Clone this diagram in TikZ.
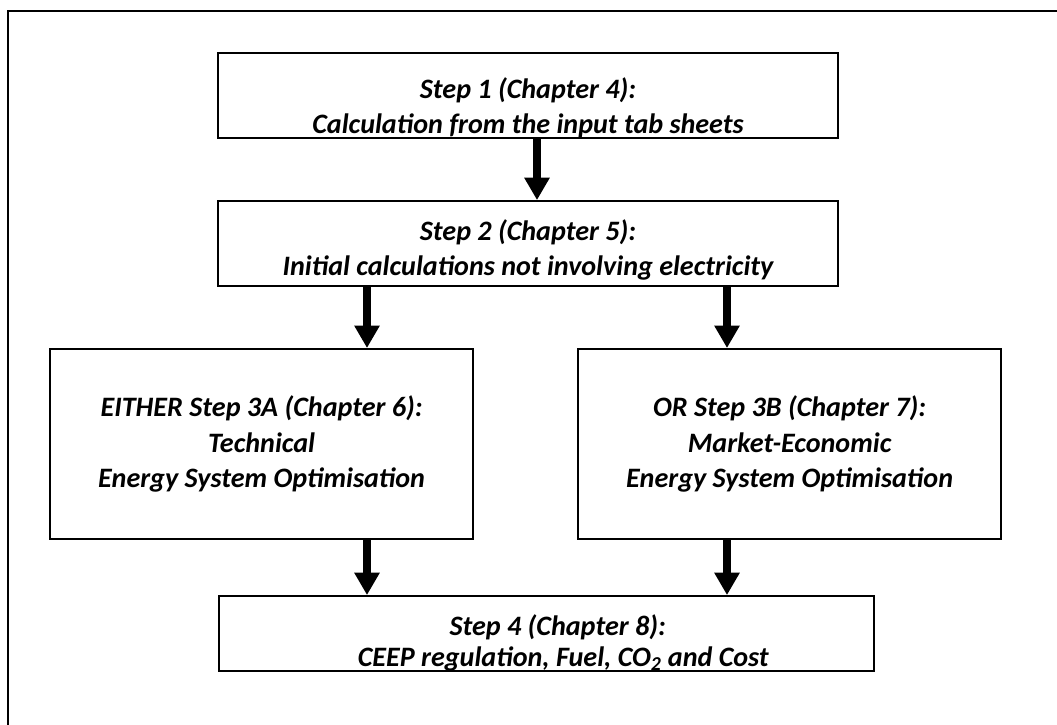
\documentclass[tikz,border=0pt]{standalone}
\usepackage{fontspec}
\setmainfont{Carlito}
\usepackage{tikz}
\usetikzlibrary{arrows.meta,positioning}

\begin{document}
\begin{tikzpicture}[->,>={Triangle[width=0.6cm,length=0.56cm]},node distance=3.7cm,
  stepbox/.style={draw, -, line width=1.4pt, align=center, inner sep=0pt,
    font=\fontsize{20}{25}\selectfont\bfseries\itshape},
  bigarrow/.style={line width=5pt}]
  \useasboundingbox (0,0) rectangle (26.425,-18.1);
  % outer frame, only its top and left edge are on the page
  \draw[-, line width=1.6pt] (0.2,-18.3) -- (0.2,-0.275) -- (26.6,-0.275);
  \node (S1) [stepbox, minimum width=15.5cm, minimum height=2.125cm] at (13.2,-2.39)
    {\rule{0pt}{32pt}Step 1 (Chapter 4):\\Calculation from the input tab sheets};
  \node (S2) [stepbox, minimum width=15.5cm, minimum height=2.125cm, below of=S1]
    {\rule{0pt}{24pt}Step 2 (Chapter 5):\\Initial calculations not involving electricity};
  \node (S3A) [stepbox, minimum width=10.575cm, minimum height=4.75cm] at (6.54,-11.1)
    {EITHER Step 3A (Chapter 6):\\Technical\\Energy System Optimisation};
  \node (S3B) [stepbox, minimum width=10.575cm, minimum height=4.75cm] at (19.74,-11.1)
    {OR Step 3B (Chapter 7):\\Market-Economic\\Energy System Optimisation};
  \node (S4) [stepbox, minimum width=16.375cm, minimum height=1.575cm] at (13.66,-15.84)
    {\rule{0pt}{28pt}\hspace*{16pt}Step 4 (Chapter 8):\\[-3pt]\hspace*{24pt}CEEP regulation, Fuel, CO\textsubscript{2} and Cost};
  % columns of the arrows
  \coordinate (mid) at (13.425,0);
  \coordinate (left) at (9.175,0);
  \coordinate (right) at (18.175,0);
  \draw[bigarrow] (S1.south -| mid) -- (S2.north -| mid);
  \draw[bigarrow] (S2.south -| left) -- (S3A.north -| left);
  \draw[bigarrow] (S2.south -| right) -- (S3B.north -| right);
  \draw[bigarrow] (S3A.south -| left) -- (S4.north -| left);
  \draw[bigarrow] (S3B.south -| right) -- (S4.north -| right);
\end{tikzpicture}
\end{document}
